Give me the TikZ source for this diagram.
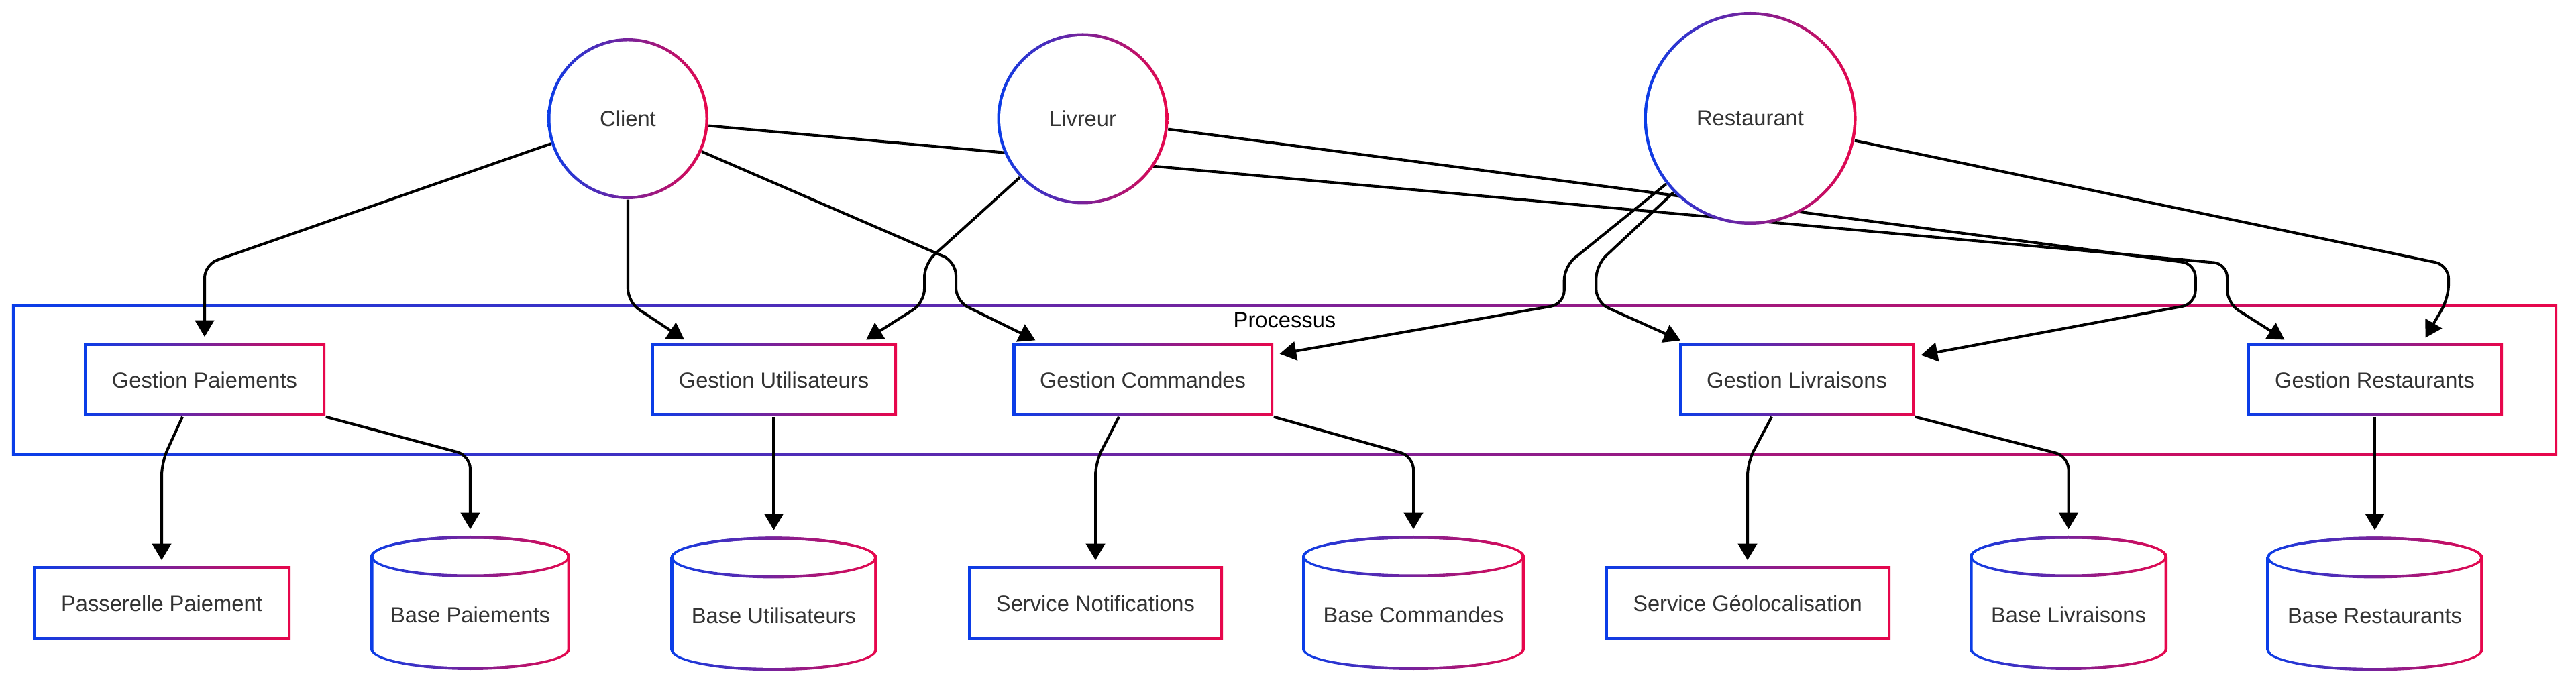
\documentclass[tikz,border=0pt]{standalone}
\usepackage{fontspec}
\setmainfont{Liberation Sans}
\usepackage{tikz}
\usetikzlibrary{arrows.meta,positioning,calc,backgrounds}

\definecolor{gblue}{HTML}{0A3DE8}
\definecolor{gred}{HTML}{E8064B}
\definecolor{txtgray}{HTML}{333333}
\newcommand{\strokew}{0.045cm}
\newcommand{\cylry}{0.31cm}

\begin{document}
\begin{tikzpicture}[
    font=\fontsize{9.3}{11}\selectfont,
    gbox/.style={rectangle, minimum width=#1, minimum height=1.09cm,
      inner sep=0pt, text=txtgray, text height=0.234cm, text depth=0pt,
      left color=gblue, right color=gred,
      path picture={\fill[white]
        ([shift={(\strokew,\strokew)}]path picture bounding box.south west)
        rectangle ([shift={(-\strokew,-\strokew)}]path picture bounding box.north east);}},
    actor/.style={circle, minimum size=#1, inner sep=0pt, text=txtgray,
      left color=gblue, right color=gred,
      path picture={\fill[white] (path picture bounding box.center)
        circle[radius=#1/2-\strokew];}},
    db/.style={rectangle, minimum width=#1, minimum height=2cm, inner sep=0pt,
      fill=white, text=txtgray, text height=0.58cm, text depth=0pt,
      path picture={
        \path[left color=gblue, right color=gred]
          ([shift={(-#1/2,1cm-\cylry)}]path picture bounding box.center)
          arc[start angle=180, end angle=0, x radius=#1/2, y radius=\cylry]
          -- ([shift={(#1/2,-1cm+\cylry)}]path picture bounding box.center)
          arc[start angle=0, end angle=-180, x radius=#1/2, y radius=\cylry]
          -- cycle;
        \fill[white]
          ([shift={(-#1/2+\strokew,1cm-\cylry)}]path picture bounding box.center)
          arc[start angle=180, end angle=0,
            x radius=#1/2-\strokew, y radius=\cylry-\strokew]
          -- ([shift={(#1/2-\strokew,-1cm+\cylry)}]path picture bounding box.center)
          arc[start angle=0, end angle=-180,
            x radius=#1/2-\strokew, y radius=\cylry-\strokew]
          -- cycle;
        \path[left color=gblue, right color=gred, even odd rule]
          ([shift={(0,1cm-\cylry)}]path picture bounding box.center)
            ellipse[x radius=#1/2, y radius=\cylry]
          ([shift={(0,1cm-\cylry)}]path picture bounding box.center)
            ellipse[x radius=#1/2-\strokew, y radius=\cylry-\strokew];}},
    lbl/.style={text=black, text height=0.234cm, text depth=0pt, inner sep=0pt},
    arr/.style={-{Triangle[length=7pt,width=8pt]}, line width=1.15pt,
      rounded corners=0.2cm, shorten >=0.09cm},
  ]
    \useasboundingbox (0,0) rectangle (38.4,-10.23);

    % --- actors ---
    \node[actor=2.40cm] (client) at (9.36,-1.77) {Client};
    \node[actor=2.55cm] (livreur) at (16.14,-1.77) {Livreur};
    \node[actor=3.17cm] (restaurant) at (26.09,-1.765) {Restaurant};

    % --- processus row ---
    \node[gbox=3.60cm] (gpay) at (3.05,-5.665) {Gestion Paiements};
    \node[gbox=3.67cm] (guser) at (11.535,-5.665) {Gestion Utilisateurs};
    \node[gbox=3.89cm] (gcmd) at (17.035,-5.665) {Gestion Commandes};
    \node[gbox=3.51cm] (gliv) at (26.785,-5.665) {Gestion Livraisons};
    \node[gbox=3.82cm] (grest) at (35.40,-5.665) {Gestion Restaurants};

    % --- services and bases ---
    \node[gbox=3.84cm] (gw) at (2.41,-8.995) {Passerelle Paiement};
    \node[db=2.98cm] (bpay) at (7.01,-8.99) {Base Paiements};
    \node[db=3.08cm, below=1.78cm of guser] (buser) {Base Utilisateurs};
    \node[gbox=3.80cm] (notif) at (16.33,-8.995) {Service Notifications};
    \node[db=3.32cm] (bcmd) at (21.07,-8.99) {Base Commandes};
    \node[gbox=4.26cm] (geo) at (26.05,-8.995) {Service Géolocalisation};
    \node[db=2.95cm] (bliv) at (30.835,-8.99) {Base Livraisons};
    \node[db=3.23cm, below=1.78cm of grest] (brest) {Base Restaurants};

    \begin{scope}[on background layer]
      % group box
      \node[gbox=37.94cm, minimum height=2.26cm] (proc) at (19.15,-5.67) {};
      \node[lbl] (proc-lbl) at ($(proc.north)+(0,-0.24)$) {Processus};

      % actors -> processus
      \draw[arr] (client.198) -- ($(gpay.north)+(0,1.17)$) -- (gpay.north);
      \draw[arr] (client.south) -- ($(client.south)+(0,-1.53)$)
        -- ($(guser.north)+(-1.26,0)$);
      \draw[arr] (client.-24) -- ($(gcmd.north)+(-2.785,1.21)$)
        -- ($(gcmd.north)+(-2.785,0.62)$) -- ($(gcmd.north)+(-1.52,0)$);
      \draw[arr] (client.-5) -- ($(grest.north)+(-2.20,1.18)$)
        -- ($(grest.north)+(-2.20,0.59)$) -- ($(grest.north)+(-1.27,0)$);
      \draw[arr] (livreur.223) -- ($(guser.north)+(2.245,1.18)$)
        -- ($(guser.north)+(2.245,0.60)$) -- ($(guser.north)+(1.30,0)$);
      \draw[arr] (livreur.-7) -- ($(gliv.north east)+(4.18,1.18)$)
        -- ($(gliv.north east)+(4.18,0.58)$) -- ($(gliv.north east)+(0,-0.2)$);
      \draw[arr] (restaurant.218) -- ($(gcmd.north east)+(4.33,1.14)$)
        -- ($(gcmd.north east)+(4.33,0.58)$) -- ($(gcmd.north east)+(0,-0.18)$);
      \draw[arr] (restaurant.224) -- ($(gliv.north west)+(-1.23,1.16)$)
        -- ($(gliv.north west)+(-1.23,0.60)$) -- ($(gliv.north west)+(0.11,0)$);
      \draw[arr] (restaurant.-12) -- ($(grest.north)+(1.10,1.16)$)
        -- ($(grest.north)+(1.10,0.67)$) -- ($(grest.north)+(0.71,0)$);

      % processus -> services and bases
      \draw[arr] ($(gpay.south)+(-0.33,0)$) -- ($(gw.north)+(0,1.55)$) -- (gw.north);
      \draw[arr] (gpay.south east) -- ($(bpay.north)+(0,1.19)$) -- (bpay.north);
      \draw[arr] (guser.south) -- (buser.north);
      \draw[arr] ($(gcmd.south)+(-0.355,0)$) -- ($(notif.north)+(0,1.55)$) -- (notif.north);
      \draw[arr] (gcmd.south east) -- ($(bcmd.north)+(0,1.18)$) -- (bcmd.north);
      \draw[arr] ($(gliv.south)+(-0.375,0)$) -- ($(geo.north)+(0,1.55)$) -- (geo.north);
      \draw[arr] (gliv.south east) -- ($(bliv.north)+(0,1.18)$) -- (bliv.north);
      \draw[arr] (grest.south) -- (brest.north);
    \end{scope}
\end{tikzpicture}
\end{document}
